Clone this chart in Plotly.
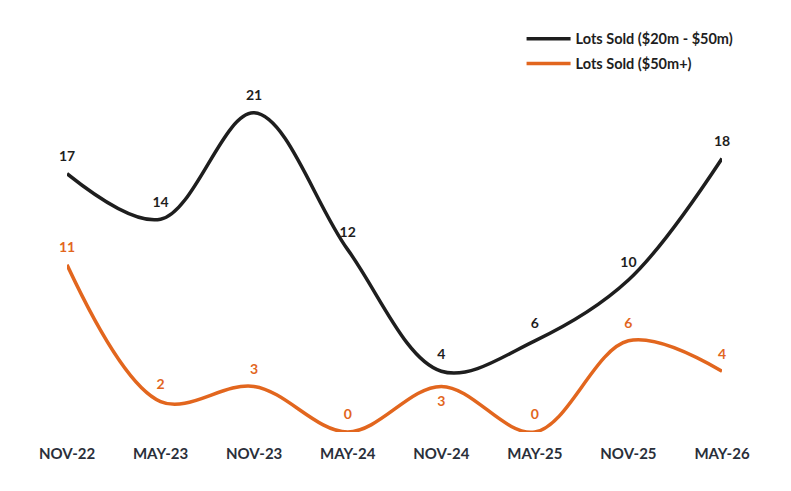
import plotly.graph_objects as go

categories = ["NOV-22", "MAY-23", "NOV-23", "MAY-24", "NOV-24", "MAY-25", "NOV-25", "MAY-26"]
lots_20_50 = [17, 14, 21, 12, 4, 6, 10, 18]
lots_50_plus = [11, 2, 3, 0, 3, 0, 6, 4]
series_names = ["Lots Sold ($20m - $50m)", "Lots Sold ($50m+)"]

BLACK = "#1e1e1e"
ORANGE = "#e2661e"
FONT = "Lato"

x_idx = list(range(len(categories)))

fig = go.Figure()
fig.add_trace(go.Scatter(
    x=x_idx, y=lots_20_50, name=series_names[0], mode="lines",
    legendgroup="a",
    line=dict(color=BLACK, width=3.5, shape="spline", smoothing=1.0),
    cliponaxis=False, hoverinfo="skip",
))
fig.add_trace(go.Scatter(
    x=x_idx, y=lots_50_plus, name=series_names[1], mode="lines",
    legendgroup="b",
    line=dict(color=ORANGE, width=3.5, shape="spline", smoothing=1.0),
    cliponaxis=False, hoverinfo="skip",
))

fig.add_trace(go.Scatter(
    x=x_idx, y=lots_20_50, mode="markers+text", showlegend=False,
    marker=dict(size=13, opacity=0, color=BLACK),
    text=[str(v) for v in lots_20_50], textposition="top center",
    textfont=dict(family=FONT, size=14, color=BLACK, weight=700),
    cliponaxis=False, hoverinfo="skip",
))
orange_pos = ["top center"] * len(lots_50_plus)
orange_pos[4] = "bottom center"
fig.add_trace(go.Scatter(
    x=x_idx, y=lots_50_plus, mode="markers+text", showlegend=False,
    marker=dict(size=13, opacity=0, color=ORANGE),
    text=[str(v) for v in lots_50_plus], textposition=orange_pos,
    textfont=dict(family=FONT, size=14, color=ORANGE, weight=700),
    cliponaxis=False, hoverinfo="skip",
))

fig.update_layout(
    width=791, height=491,
    margin=dict(l=67, r=69, t=46, b=59),
    paper_bgcolor="white", plot_bgcolor="white",
    font=dict(family=FONT, size=13, color=BLACK),
    showlegend=True,
    legend=dict(x=0.694, y=1.06, xanchor="left", yanchor="top",
                font=dict(family=FONT, size=14.5, color=BLACK, weight=700),
                itemwidth=44, tracegroupgap=3,
                bgcolor="rgba(0,0,0,0)"),
    xaxis=dict(range=[0, 7], tickmode="array", tickvals=x_idx, ticktext=categories,
               showgrid=False, zeroline=False, showline=False, ticks="",
               ticklabelstandoff=11,
               tickfont=dict(family=FONT, size=15, color="#2a2f3a", weight=700)),
    yaxis=dict(range=[0, 25.4], visible=False, showgrid=False, zeroline=False),
)

fig.write_html("out.html")
